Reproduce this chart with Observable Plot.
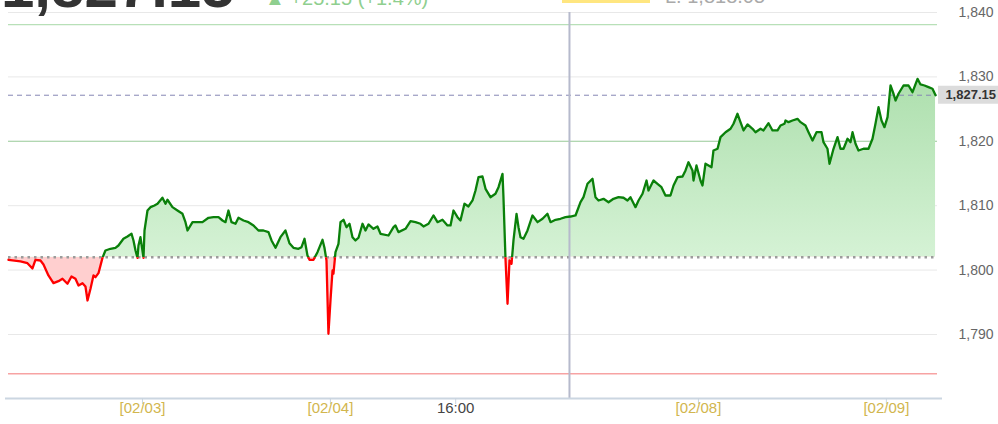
<!DOCTYPE html>
<html><head><meta charset="utf-8">
<script src="https://cdn.jsdelivr.net/npm/d3@7"></script>
<script src="https://cdn.jsdelivr.net/npm/@observablehq/plot@0.6"></script>
<style>html,body{margin:0;padding:0;background:#fff;overflow:hidden}#chart{position:relative;width:998px;height:424px}svg{display:block}</style>
</head><body><div id="chart"></div>
<script>
// trading hours since 02/03 00:00 (weekend compressed)
const hours = [
-17.11,-15.58,-14.69,-14.05,-13.67,-13.03,-12.64,-12.01,-11.37,-10.73,
-10.22,-9.58,-9.07,-8.56,-8.17,-7.66,-7.28,-7.02,-6.64,-6.26,
-6.00,-5.62,-5.11,-4.73,-4.09,-3.45,-3.07,-2.43,-1.92,-1.40,
-1.15,-0.89,-0.64,-0.51,-0.26,0.13,0.26,0.64,1.02,1.53,
1.92,2.55,2.94,3.19,3.83,4.47,5.11,5.49,5.75,6.39,
7.15,7.66,8.43,9.07,9.71,10.22,10.60,10.98,11.37,11.88,
12.26,12.90,13.54,14.18,14.81,15.45,16.09,16.48,16.99,17.62,
18.26,18.77,19.28,19.92,20.31,20.69,21.07,21.33,21.84,22.35,
22.99,23.24,23.50,23.75,24.01,24.27,24.39,24.65,25.03,25.29,
25.67,26.05,26.44,26.82,27.20,27.59,28.10,28.48,28.86,29.50,
30.01,30.40,31.42,32.06,32.31,32.69,33.59,34.23,34.87,35.50,
35.89,36.53,37.16,37.68,38.31,38.95,39.34,39.72,40.23,40.61,
41.12,41.63,42.15,42.53,42.91,43.42,43.81,44.44,45.08,45.47,
45.98,46.10,46.36,46.62,46.87,47.13,47.38,47.77,48.02,48.28,
48.66,49.17,49.81,50.45,51.09,51.72,52.11,52.75,53.38,54.02,
54.66,55.30,55.94,56.32,56.83,57.47,57.85,58.24,58.88,59.52,
60.15,60.79,61.43,61.94,62.32,62.96,63.35,63.86,64.37,64.62,
65.26,65.77,66.28,66.79,67.43,67.82,68.33,68.97,69.35,69.73,
70.24,70.37,70.75,71.26,71.52,71.90,72.29,72.67,72.92,73.44,
73.82,74.46,75.10,75.48,75.99,76.37,76.76,77.27,77.91,78.29,
78.93,79.31,79.95,80.46,81.10,81.48,81.99,82.12,82.50,83.01,
83.65,84.04,84.67,85.06,85.57,86.08,86.72,86.97,87.48,87.74,
88.25,88.76,89.14,89.53,90.04,90.42,90.68,91.06,91.44,92.08,
92.72,93.23,93.61,94.00,94.38,94.76,95.15,95.53,95.91,96.17,
96.55,97.19,97.83,98.34,98.98,99.36,99.87,100.38,100.89,101.28
];
const prices = [
1801.60,1801.34,1801.07,1800.25,1801.60,1801.49,1800.87,1799.16,1797.97,1798.28,
1798.65,1797.87,1799.01,1798.65,1797.61,1797.97,1797.45,1795.28,1797.10,1799.16,
1798.90,1799.52,1801.90,1803.04,1803.31,1803.46,1803.82,1804.86,1805.22,1805.64,
1804.60,1803.04,1801.91,1803.82,1805.11,1801.91,1806.15,1809.25,1809.77,1810.03,
1810.30,1811.23,1810.30,1810.92,1809.77,1809.25,1808.74,1807.44,1806.15,1807.44,
1807.44,1807.44,1808.12,1808.21,1808.21,1807.70,1807.44,1809.25,1807.44,1807.19,
1808.12,1807.70,1807.44,1806.93,1806.15,1806.15,1805.89,1804.60,1803.46,1805.11,
1806.15,1804.18,1803.46,1803.31,1803.56,1804.86,1802.27,1801.60,1801.60,1802.78,
1804.70,1803.46,1801.49,1790.11,1795.28,1799.94,1799.43,1802.78,1804.08,1807.44,
1807.81,1806.66,1807.19,1805.11,1804.60,1805.02,1807.19,1806.15,1807.08,1806.41,
1806.77,1805.64,1805.37,1806.66,1806.93,1805.89,1806.41,1807.59,1807.44,1807.19,
1806.77,1807.19,1808.48,1807.44,1807.81,1806.93,1806.93,1809.25,1808.21,1807.70,
1810.30,1809.88,1810.81,1812.36,1814.43,1814.53,1812.62,1811.32,1811.85,1812.87,
1814.95,1811.32,1801.75,1794.77,1801.49,1800.98,1804.60,1808.74,1806.66,1805.11,
1804.86,1806.15,1808.48,1807.44,1807.97,1808.74,1807.44,1807.81,1807.97,1808.21,
1808.32,1808.48,1810.54,1811.32,1813.40,1814.18,1811.32,1810.81,1811.07,1810.54,
1811.07,1811.32,1811.23,1810.81,1811.32,1809.77,1810.81,1811.85,1813.91,1812.36,
1813.91,1813.40,1812.87,1811.58,1811.58,1813.14,1814.43,1814.53,1815.47,1816.75,
1815.47,1813.91,1816.24,1813.91,1813.14,1816.51,1816.24,1815.98,1818.57,1818.84,
1820.64,1821.41,1821.94,1822.72,1824.27,1822.97,1821.68,1822.61,1821.94,1821.41,
1821.94,1821.68,1822.81,1821.68,1821.68,1822.45,1822.72,1823.23,1822.97,1823.23,
1823.49,1822.97,1822.45,1821.41,1820.12,1821.41,1821.41,1819.86,1818.84,1816.51,
1818.84,1820.64,1818.84,1818.84,1820.39,1819.86,1821.41,1819.61,1818.57,1818.84,
1818.84,1820.39,1822.72,1825.30,1823.23,1822.19,1823.74,1828.66,1827.38,1826.34,
1827.38,1828.66,1828.66,1827.62,1829.70,1828.82,1828.66,1828.40,1828.15,1827.15
];
const prevClose = 1802;
const lastPrice = 1827.15;
const highLevel = 1838.1;
const midLevel = 1820;
const lowLevel = 1783.9;
const crosshairHour = 54.53;
const yTicks = [1790, 1800, 1810, 1820, 1830, 1840];
const xTickHours = [0, 24, 40, 71, 95];
const xTickLabels = ["[02/03]", "[02/04]", "16:00", "[02/08]", "[02/09]"];
const headerPrice = "1,827.15";
const headerChange = "▲ +25.15 (+1.4%)";
const headerLow = "L: 1,818.05";

const xDomain = [-17.11, 101.53];
const yDomain = [1780.06, 1841.86];
const rows = hours.map((t, i) => ({t, p: prices[i]}));
const dateIdx = xTickLabels.map((s, i) => i).filter(i => xTickLabels[i].startsWith("["));
const timeIdx = xTickLabels.map((s, i) => i).filter(i => !xTickLabels[i].startsWith("["));
const fmt = d3.format(",");

const plot = Plot.plot({
  width: 998, height: 424,
  marginLeft: 8, marginRight: 61, marginTop: 0, marginBottom: 26,
  x: {domain: xDomain},
  y: {domain: yDomain, axis: null},
  style: {fontFamily: "'Liberation Sans', Arial, sans-serif", background: "#fff", overflow: "visible"},
  marks: [
    Plot.ruleY(yTicks, {stroke: "#e8e8e8", strokeWidth: 1}),
    Plot.ruleY([highLevel], {stroke: "#a6d9a6", strokeWidth: 1}),
    Plot.ruleY([midLevel], {stroke: "#9fd09f", strokeWidth: 1}),
    Plot.ruleY([lowLevel], {stroke: "#f7a3a3", strokeWidth: 1.3}),
    Plot.areaY(rows, {x: "t", y1: () => prevClose, y2: "p", fill: "url(#gGreen)"}),
    Plot.areaY(rows, {x: "t", y1: () => prevClose, y2: "p", fill: "#ffcfcf"}),
    Plot.ruleY([prevClose], {stroke: "#9c9c9c", strokeWidth: 2.5, strokeDasharray: "2.5,4"}),
    Plot.ruleY([lastPrice], {stroke: "#8587b5", strokeWidth: 1, strokeDasharray: "5,4"}),
    Plot.ruleX([crosshairHour], {y1: yDomain[0], y2: 1840, stroke: "#b6bacc", strokeWidth: 2}),
    Plot.lineY(rows, {x: "t", y: "p", stroke: "#0a800a", strokeWidth: 2.3}),
    Plot.lineY(rows, {x: "t", y: "p", stroke: "#ff0000", strokeWidth: 2.3}),
    Plot.ruleY([yDomain[0]], {stroke: "#cbd6e1", strokeWidth: 2, insetLeft: -3, insetRight: -5}),
    Plot.axisX({ticks: xTickHours, tickSize: 6, tickFormat: () => "", label: null, stroke: "#c9d4df"}),
    Plot.text(dateIdx, {x: i => xTickHours[i], text: i => xTickLabels[i], frameAnchor: "bottom", dy: 14,
      fill: "#d2b64e", fontSize: 15, fontFamily: "'Liberation Sans Narrow', 'Liberation Sans', sans-serif"}),
    Plot.text(timeIdx, {x: i => xTickHours[i], text: i => xTickLabels[i], frameAnchor: "bottom", dy: 14,
      fill: "#444", fontSize: 15, fontFamily: "'Liberation Sans Narrow', 'Liberation Sans', sans-serif"}),
    Plot.text(yTicks, {x: () => xDomain[1], y: d => d, text: d => fmt(d), dx: 56, textAnchor: "end",
      fill: "#666", fontSize: 14})
  ]
});
document.getElementById("chart").appendChild(plot);

const svg = d3.select(plot);
const yS = plot.scale("y");
const xS = plot.scale("x");
const yBase = yS.apply(prevClose);
const defs = svg.insert("defs", ":first-child");
const grad = defs.append("linearGradient").attr("id", "gGreen")
  .attr("gradientUnits", "userSpaceOnUse").attr("x1", 0).attr("x2", 0)
  .attr("y1", yS.apply(1830)).attr("y2", yBase);
grad.append("stop").attr("offset", 0).attr("stop-color", "#addfad");
grad.append("stop").attr("offset", 1).attr("stop-color", "#d5f2d5");
defs.append("clipPath").attr("id", "clipAbove").append("rect")
  .attr("x", 0).attr("y", 0).attr("width", 998).attr("height", yBase);
defs.append("clipPath").attr("id", "clipBelow").append("rect")
  .attr("x", 0).attr("y", yBase).attr("width", 998).attr("height", 424 - yBase);
svg.selectAll('g[aria-label="area"]').each(function(d, i) {
  d3.select(this).attr("clip-path", i === 0 ? "url(#clipAbove)" : "url(#clipBelow)");
});
svg.selectAll('g[aria-label="line"]').each(function(d, i) {
  d3.select(this).attr("clip-path", i === 0 ? "url(#clipAbove)" : "url(#clipBelow)");
});

// last price tag
const yLast = yS.apply(lastPrice);
const xRight = xS.apply(xDomain[1]);
svg.append("rect").attr("x", xRight + 1).attr("y", yLast - 9).attr("width", 998 - xRight - 1).attr("height", 18).attr("fill", "#dcdcdc");
svg.append("text").attr("x", 996).attr("y", yLast).attr("dy", "0.35em").attr("text-anchor", "end")
  .attr("font-weight", "bold").attr("font-size", 13).attr("fill", "#333").text(fmt(lastPrice));

// header, scrolled mostly out of view (only the bottom of the glyphs shows)
const head = svg.append("g").attr("text-anchor", "start");
head.append("text").attr("x", 1).attr("y", 7).attr("font-size", 60).attr("font-weight", "bold").attr("fill", "#333").text(headerPrice);
head.append("text").attr("x", 265).attr("y", 5).attr("font-size", 20).attr("fill", "#8fcf8f").text(headerChange);
head.append("rect").attr("x", 562).attr("y", 0).attr("width", 88).attr("height", 3).attr("fill", "#ffe680");
head.append("text").attr("x", 665).attr("y", 3).attr("font-size", 20).attr("fill", "#aaa").text(headerLow);
</script></body></html>
